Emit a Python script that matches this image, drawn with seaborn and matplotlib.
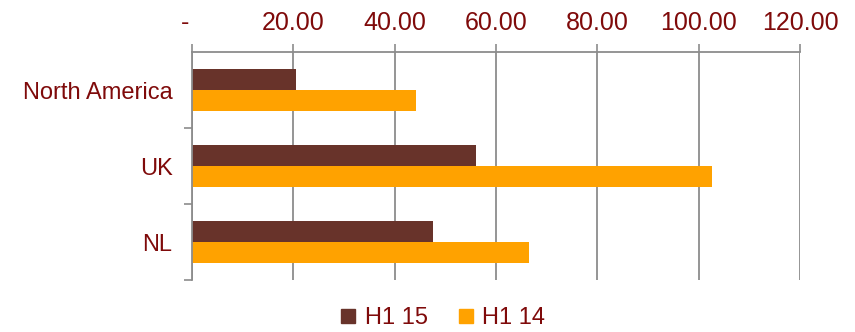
import matplotlib
matplotlib.use("Agg")
import matplotlib.pyplot as plt
from matplotlib.lines import Line2D
from matplotlib.ticker import FuncFormatter
import seaborn as sns
import pandas as pd

# Revenue by region, half-year comparison
regions = ["North America", "UK", "NL"]
periods = ["H1 15", "H1 14"]
h1_15 = [20.5, 56.1, 47.6]
h1_14 = [44.2, 102.7, 66.6]
x_ticks = [0, 20, 40, 60, 80, 100, 120]

df = pd.DataFrame({
    "region": regions * 2,
    "period": [periods[0]] * len(regions) + [periods[1]] * len(regions),
    "value": h1_15 + h1_14,
})

brown = "#68332A"
orange = "#FFA200"
label_red = "#7F0A0A"
grid_gray = "#8C8C8C"

sns.set_style("white")
plt.rcParams["font.family"] = ["Liberation Sans", "DejaVu Sans"]

fig = plt.figure(figsize=(8.55, 3.32), dpi=100)
ax = fig.add_axes([192 / 855, 1 - 280 / 332, (800 - 192) / 855, (280 - 52) / 332])

sns.barplot(data=df, y="region", x="value", hue="period", orient="h",
            order=regions, hue_order=periods, palette=[brown, orange],
            saturation=1, width=0.55, linewidth=0, legend=False, ax=ax)

ax.set_xlim(0, 120)
ax.set_ylim(2.5, -0.5)
ax.set_xlabel("")
ax.set_ylabel("")

# value axis on top, accounting-style labels
ax.xaxis.tick_top()
ax.set_xticks(x_ticks)
ax.xaxis.set_major_formatter(FuncFormatter(lambda v, p: "-  " if v == 0 else f"{v:.2f}"))
ax.tick_params(axis="x", which="major", direction="out", length=6, width=1.2,
               color=grid_gray, labelsize=18, labelcolor=label_red, pad=6)

# category labels, with separators between groups
ax.set_yticks(range(len(regions)))
ax.set_yticklabels(regions)
ax.set_yticks([0.5, 1.5, 2.5], minor=True)
ax.tick_params(axis="y", which="major", length=0, labelsize=17,
               labelcolor=label_red, pad=14)
ax.tick_params(axis="y", which="minor", length=6, width=1.2, color=grid_gray,
               direction="out", left=True)

ax.grid(axis="x", color=grid_gray, linewidth=1.3)
ax.grid(axis="y", visible=False)
ax.set_axisbelow(True)

for side in ["right", "bottom"]:
    ax.spines[side].set_visible(False)
for side in ["top", "left"]:
    ax.spines[side].set_visible(True)
    ax.spines[side].set_color(grid_gray)
    ax.spines[side].set_linewidth(1.3)

handles = [Line2D([], [], linestyle="none", marker="s", markersize=10,
                  markerfacecolor=c, markeredgecolor=c) for c in (brown, orange)]
leg = fig.legend(handles, periods, loc="center", bbox_to_anchor=(442 / 855, 1 - 318 / 332),
                 ncol=2, frameon=False, fontsize=17, handlelength=0.8,
                 handletextpad=0.3, columnspacing=1.2, borderpad=0)
for t in leg.get_texts():
    t.set_color(label_red)

fig.savefig("out.png", dpi=100)
